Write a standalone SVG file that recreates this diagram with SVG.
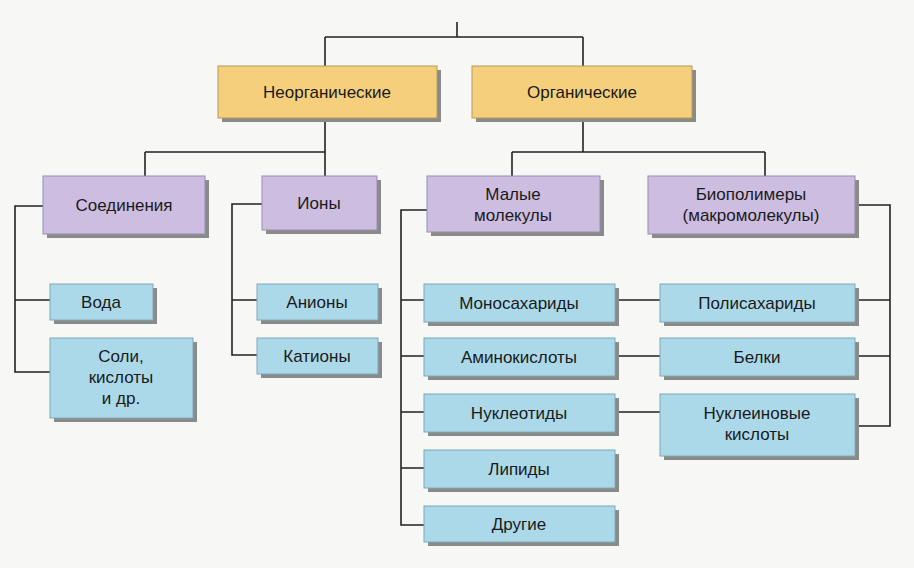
<svg xmlns="http://www.w3.org/2000/svg" width="914" height="568" viewBox="0 0 914 568">
<defs><style>
.sh{fill:#8a8a8a}
.o{fill:#f6cf7c;stroke:#b89a5a;stroke-width:1}
.p{fill:#cdbde0;stroke:#9a8cb0;stroke-width:1}
.b{fill:#abd9e9;stroke:#7fa9b8;stroke-width:1}
text{font-family:"Liberation Sans",Arial,sans-serif;font-size:17px;fill:#1a1a1a;text-anchor:middle}
.c{fill:none;stroke:#222;stroke-width:1.6}
</style></defs>
<rect width="914" height="568" fill="#f7f7f5"/>
<g id="connectors" class="c">
<path d="M457 22V37M325 37H583M325 37V66M583 37V66"/>
<path d="M325 118V152M145 152H325M145 152V176M325 152V176"/>
<path d="M583 118V152M512 152H765M512 152V176M765 152V176"/>
<path d="M43 206H15V372H50M15 300H50"/>
<path d="M262 204H232V355H257M232 300H257"/>
<path d="M427 210H401V525H424M401 300H424M401 356H424M401 412H424M401 468H424"/>
<path d="M855 205H890V426H855M890 300H855M890 356H855"/>
<path d="M615 300H660M615 356H660M615 412H660"/>
</g>
<g id="n1"><rect class="sh" x="222" y="70" width="219" height="52"/><rect class="o" x="218" y="66" width="219" height="52"/><text x="327" y="98">Неорганические</text></g>
<g id="n2"><rect class="sh" x="476" y="70" width="220" height="52"/><rect class="o" x="472" y="66" width="220" height="52"/><text x="582" y="98">Органические</text></g>
<g id="n3"><rect class="sh" x="47" y="180" width="162" height="58"/><rect class="p" x="43" y="176" width="162" height="58"/><text x="124" y="211">Соединения</text></g>
<g id="n4"><rect class="sh" x="266" y="180" width="115" height="54"/><rect class="p" x="262" y="176" width="115" height="54"/><text x="319" y="209">Ионы</text></g>
<g id="n5"><rect class="sh" x="431" y="180" width="173" height="56"/><rect class="p" x="427" y="176" width="173" height="56"/><text x="513" y="200">Малые</text><text x="513" y="221">молекулы</text></g>
<g id="n6"><rect class="sh" x="652" y="180" width="207" height="58"/><rect class="p" x="648" y="176" width="207" height="58"/><text x="751" y="200">Биополимеры</text><text x="751" y="221">(макромолекулы)</text></g>
<g id="n7"><rect class="sh" x="54" y="288" width="103" height="36"/><rect class="b" x="50" y="284" width="103" height="36"/><text x="101" y="308">Вода</text></g>
<g id="n8"><rect class="sh" x="54" y="342" width="143" height="80"/><rect class="b" x="50" y="338" width="143" height="80"/><text x="121" y="362">Соли,</text><text x="121" y="383">кислоты</text><text x="121" y="404">и др.</text></g>
<g id="n9"><rect class="sh" x="261" y="288" width="121" height="36"/><rect class="b" x="257" y="284" width="121" height="36"/><text x="317" y="308">Анионы</text></g>
<g id="n10"><rect class="sh" x="261" y="342" width="121" height="36"/><rect class="b" x="257" y="338" width="121" height="36"/><text x="317" y="362">Катионы</text></g>
<g id="n11"><rect class="sh" x="428" y="288" width="191" height="38"/><rect class="b" x="424" y="284" width="191" height="38"/><text x="519" y="309">Моносахариды</text></g>
<g id="n12"><rect class="sh" x="428" y="342" width="191" height="38"/><rect class="b" x="424" y="338" width="191" height="38"/><text x="519" y="363">Аминокислоты</text></g>
<g id="n13"><rect class="sh" x="428" y="398" width="191" height="38"/><rect class="b" x="424" y="394" width="191" height="38"/><text x="519" y="419">Нуклеотиды</text></g>
<g id="n14"><rect class="sh" x="428" y="454" width="191" height="38"/><rect class="b" x="424" y="450" width="191" height="38"/><text x="519" y="475">Липиды</text></g>
<g id="n15"><rect class="sh" x="428" y="510" width="191" height="36"/><rect class="b" x="424" y="506" width="191" height="36"/><text x="519" y="530">Другие</text></g>
<g id="n16"><rect class="sh" x="664" y="288" width="195" height="38"/><rect class="b" x="660" y="284" width="195" height="38"/><text x="757" y="309">Полисахариды</text></g>
<g id="n17"><rect class="sh" x="664" y="342" width="195" height="38"/><rect class="b" x="660" y="338" width="195" height="38"/><text x="757" y="363">Белки</text></g>
<g id="n18"><rect class="sh" x="664" y="398" width="195" height="62"/><rect class="b" x="660" y="394" width="195" height="62"/><text x="757" y="419">Нуклеиновые</text><text x="757" y="440">кислоты</text></g>
</svg>
